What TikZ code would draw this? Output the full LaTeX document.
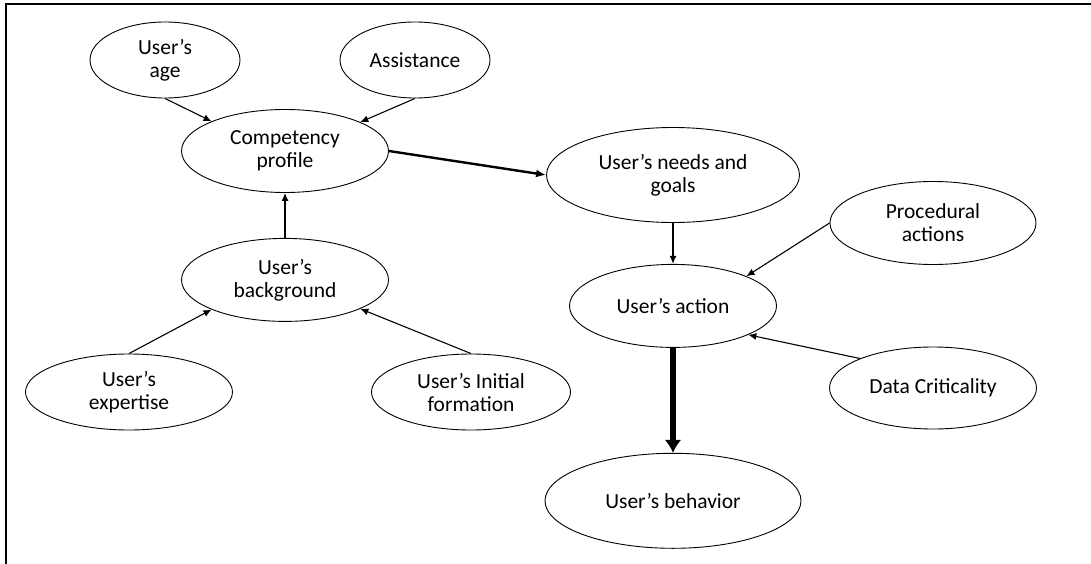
\documentclass[tikz,border=0pt]{standalone}
\usepackage{fontspec}
\setmainfont{Carlito}
\usepackage{tikz}
\usetikzlibrary{shapes.geometric}
\usetikzlibrary{positioning}
\usetikzlibrary{arrows.meta}

\tikzset{
  factor/.style={draw,ellipse,align=center,line width=0.9pt,inner sep=0pt,
    minimum width=207pt,minimum height=83pt,font=\fontsize{21.5}{23}\selectfont},
  link/.style={->,line width=1.1pt},
}

\begin{document}
\begin{tikzpicture}[x=1pt,y=1pt,>={Latex[length=8pt,width=7pt]}]
  \useasboundingbox (0,0) rectangle (1091,-564);
  \draw[line width=2pt] (6,-564) -- (6,-4) -- (1091,-4);
  \node[factor,minimum width=150pt,minimum height=76pt](age) at (165,-60) {User's\\age};
  \node[factor,minimum width=150pt,minimum height=76pt](assist) at (415,-60) {Assistance};
  \node[factor](comp) at (285,-151) {Competency\\profile};
  \node[factor,below=45pt of comp](backgr) {User's\\background};
  \node[factor,minimum height=76pt](expert) at (129,-392) {User's\\expertise};
  \node[factor,minimum width=199pt,minimum height=76pt](initform) at (471,-392) {User's Initial\\formation};
  \node[factor,minimum width=253pt,minimum height=95pt](needs) at (673,-175) {User's needs and\\goals};
  \node[factor,below=41pt of needs](action) {User's action};
  \node[factor,below=105pt of action,minimum width=256pt,minimum height=95pt](behav) {User's behavior};
  \node[factor,minimum width=206pt](proced) at (933,-223) {Procedural\\actions};
  \node[factor,minimum height=82pt](critic) at (933,-388) {Data Criticality};
  \draw[link] (age.south)--(comp.158);
  \draw[link] (assist.south)--(comp.21);
  \draw[link] (backgr.north)--(comp.south);
  \draw[link] (expert.north)--(backgr.-158);
  \draw[link] (initform.north)--(backgr.-21);
  \draw[link,line width=2.4pt,>={Latex[length=10pt,width=8pt]}] (comp.east)--(needs.west);
  \draw[link,line width=2.2pt] (needs.south)--(action.north);
  \draw[link] (proced.west)--(action.22);
  \draw[link] (critic.158)--(action.-21);
  \draw[link,line width=5.5pt,>={Latex[length=13pt,width=17pt]}] (action.south)--(behav.north);
\end{tikzpicture}
\end{document}
